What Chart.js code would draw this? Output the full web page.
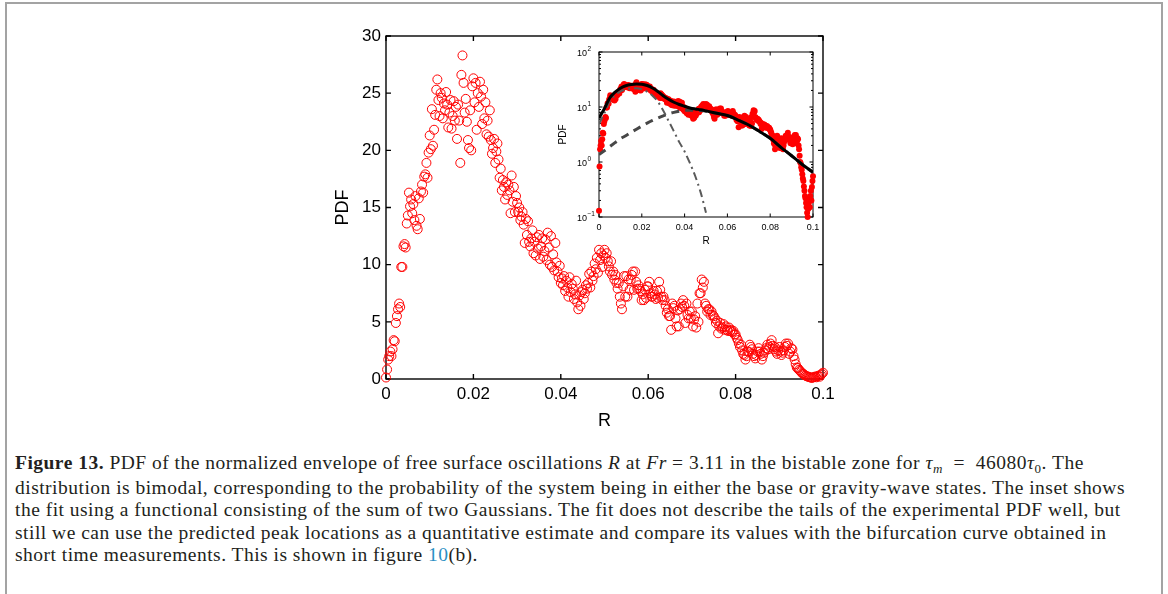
<!DOCTYPE html>
<html>
<head>
<meta charset="utf-8">
<script src="https://cdn.jsdelivr.net/npm/chart.js@4.4.0/dist/chart.umd.min.js"></script>
<style>
html, body { margin: 0; padding: 0; background: #fff; }
body { width: 1168px; height: 594px; position: relative; overflow: hidden; }
#frame { position: absolute; left: 5px; top: 2px; width: 1158px; height: 640px; border: 2px solid #a3a3a3; border-bottom: none; box-sizing: border-box; }
#mainBox { position: absolute; left: 328px; top: 20px; width: 520px; height: 416px; }
#insetBox { position: absolute; left: 553px; top: 40px; width: 272px; height: 211px; }
#caption { position: absolute; left: 15px; top: 452px; font-family: "Liberation Serif", "DejaVu Serif", serif; font-size: 19.5px; line-height: 22.5px; color: #231f20; white-space: nowrap; }
#caption span.line { display: inline-block; }
.sub { font-size: 13px; position: relative; top: 4px; }
.ref { color: #2a8fc4; }
</style>
</head>
<body>
<div id="frame"></div>
<div id="mainBox"><canvas id="mainChart" width="520" height="416"></canvas></div>
<div id="insetBox"><canvas id="insetChart" width="272" height="211"></canvas></div>
<div id="caption">
<div><span class="line"><b>Figure 13.</b> PDF of the normalized envelope of free surface oscillations <i>R</i> at <i>Fr</i> = 3.11 in the bistable zone for <i>τ</i><span class="sub"><i>m</i></span> &nbsp;= &nbsp;46080<i>τ</i><span class="sub">0</span>. The</span></div>
<div><span class="line" id="longLine">distribution is bimodal, corresponding to the probability of the system being in either the base or gravity-wave states. The inset shows</span></div>
<div><span class="line">the fit using a functional consisting of the sum of two Gaussians. The fit does not describe the tails of the experimental PDF well, but</span></div>
<div><span class="line">still we can use the predicted peak locations as a quantitative estimate and compare its values with the bifurcation curve obtained in</span></div>
<div><span class="line">short time measurements. This is shown in figure <span class="ref">10</span>(b).</span></div>
</div>
<script>
// histogram bins of R, one PDF value per bin
var binWidth = 0.00025;
var pdfValues = [
  0.13, 0.83, 1.7, 2.0,      // 0.000
  2.4, 2.0, 2.6, 3.4,
  3.3, 4.9, 5.5, 6.1,
  6.6, 6.3, 9.8, 9.8,
  11.6, 11.8, 11.5, 13.6,
  14.3, 16.3, 15.1, 15.7,    // 0.005
  14.5, 15.3, 13.9, 16.0,
  13.4, 13.1, 15.8, 14.0,
  16.4, 17.0, 16.3, 17.7,
  17.9, 18.9, 17.6, 19.8,
  21.3, 20.1, 23.6, 20.4,    // 0.010
  21.8, 23.1, 25.3, 26.2,
  24.4, 23.0, 25.0, 24.6,
  22.8, 24.1, 23.5, 25.1,
  24.0, 22.0, 23.3, 24.4,
  21.9, 23.0, 24.3, 22.6,    // 0.015
  23.8, 21.0, 24.0, 22.6,
  18.9, 26.6, 28.3, 25.9,
  23.3, 24.5, 22.5, 20.9,
  20.2, 23.5, 20.0, 25.6,
  26.3, 24.2, 25.9, 21.8,    // 0.020
  25.0, 23.8, 26.0, 24.7,
  22.3, 25.3, 22.8, 24.2,
  21.4, 22.6, 21.2, 23.5,
  20.9, 19.7, 20.2, 21.0,
  18.9, 19.9, 20.6, 19.2,    // 0.025
  17.6, 18.4, 16.5, 17.4,
  16.8, 15.7, 17.2, 16.1,
  17.0, 16.5, 14.5, 17.8,
  15.5, 16.8, 14.6, 16.0,
  15.4, 14.6, 15.0, 13.9,    // 0.030
  14.2, 14.6, 13.5, 11.9,
  14.0, 12.6, 13.8, 12.0,
  11.6, 12.3, 13.0, 11.0,
  12.0, 10.8, 12.4, 11.4,
  12.6, 10.5, 11.6, 12.3,    // 0.035
  10.7, 11.2, 12.2, 10.4,
  12.8, 11.5, 10.0, 12.5,
  9.8, 10.9, 9.5, 11.9,
  10.2, 9.4, 8.9, 9.9,
  8.4, 8.8, 8.2, 9.0,        // 0.040
  7.7, 8.6, 8.0, 7.2,
  8.9, 7.6, 8.3, 7.9,
  7.0, 7.4, 8.6, 6.7,
  6.1, 7.3, 6.4, 7.6,
  7.8, 7.0, 7.5, 8.2,        // 0.045
  7.9, 8.4, 9.2, 8.0,
  9.4, 8.6, 9.0, 10.1,
  9.6, 10.6, 9.3, 11.3,
  10.4, 11.0, 9.8, 10.8,
  11.3, 10.6, 11.0, 10.3,    // 0.050
  9.85, 9.4, 10.3, 9.1,
  9.4, 8.7, 9.1, 8.4,
  7.9, 8.4, 7.2, 6.6,
  6.1, 8.1, 9.0, 7.2,
  9.0, 7.2, 8.7, 7.8,        // 0.055
  8.7, 9.1, 9.4, 7.8,
  9.4, 8.5, 7.9, 8.2,
  7.9, 7.7, 6.9, 7.4,
  6.9, 7.8, 7.1, 8.1,
  8.1, 8.5, 7.5, 7.2,        // 0.060
  7.2, 7.7, 7.4, 7.0,
  7.7, 7.1, 8.5, 7.8,
  7.2, 6.9, 7.2, 6.9,
  6.4, 5.8, 6.1, 5.5,
  5.5, 4.3, 6.6, 6.2,        // 0.065
  6.4, 5.3, 4.6, 6.0,
  4.6, 6.1, 6.6, 6.3,
  6.9, 6.4, 4.9, 6.6,
  5.6, 5.3, 5.9, 5.3,
  5.9, 4.6, 5.2, 5.5,        // 0.070
  4.5, 6.6, 5.0, 7.5,
  7.5, 8.7, 8.0, 8.5,
  6.6, 6.4, 5.9, 6.1,
  6.1, 5.6, 5.9, 5.6,
  5.5, 5.3, 4.9, 5.1,        // 0.075
  4.0, 4.6, 4.9, 4.4,
  4.5, 4.8, 4.3, 4.6,
  4.3, 4.2, 4.5, 4.2,
  4.3, 4.1, 4.2, 3.9,
  3.9, 3.6, 3.4, 3.1,        // 0.080
  2.8, 3.0, 2.5, 2.2,
  2.1, 1.7, 2.0, 2.4,
  2.4, 3.0, 2.8, 2.6,
  2.2, 2.0, 1.8, 2.1,
  2.4, 2.7, 2.4, 2.2,        // 0.085
  1.7, 2.0, 2.3, 2.5,
  2.7, 3.0, 2.6, 2.8,
  3.1, 3.4, 2.9, 2.6,
  2.8, 2.4, 2.2, 2.5,
  2.8, 2.4, 2.1, 2.3,        // 0.090
  2.5, 2.8, 3.1, 2.9,
  3.1, 2.2, 2.4, 2.7,
  2.6, 2.0, 1.7, 1.3,
  1.0, 0.95, 0.8, 0.72,
  0.6, 0.5, 0.45, 0.36,      // 0.095
  0.3, 0.24, 0.22, 0.18,
  0.15, 0.12, 0.1, 0.14,
  0.18, 0.22, 0.15, 0.24,
  0.3, 0.2, 0.35, 0.45,
  0.55                       // 0.100
];

// two-Gaussian fit shown in the inset
var fitR      = [0, 0.0025, 0.005, 0.0075, 0.01, 0.0125, 0.015, 0.0175, 0.02, 0.0225, 0.025, 0.0275, 0.03, 0.0325, 0.035, 0.0375, 0.04, 0.0425, 0.045, 0.0475, 0.05, 0.055, 0.06, 0.065, 0.07, 0.075, 0.08, 0.085, 0.09, 0.095, 0.1];
var fitSum    = [6.3, 9.3, 14.6, 18.6, 22.0, 24.3, 25.6, 26.2, 26.0, 24.6, 22.2, 19.2, 16.0, 13.8, 12.2, 11.1, 10.3, 9.6, 9.2, 8.9, 8.5, 7.7, 7.0, 5.8, 4.7, 3.6, 2.7, 1.85, 1.3, 0.9, 0.65];
var fitWide   = [1.36, 1.6, 1.9, 2.25, 2.65, 3.0, 3.45, 3.95, 4.5, 5.1, 5.7, 6.3, 6.9, 7.5, 8.0, 8.4, 8.7, 8.75, 8.7, 8.6, 8.4, 7.7, 7.0, 5.8, 4.7, 3.6, 2.7, 1.85, 1.3, 0.9, 0.65];
var fitNarrow = [4.9, 7.7, 12.7, 16.3, 19.3, 21.0, 21.8, 22.0, 21.0, 19.0, 16.0, 12.5, 8.6, 5.6, 3.6, 2.3, 1.55, 0.95, 0.55, 0.28, 0.12];

var rTicks = [0, 0.02, 0.04, 0.06, 0.08, 0.1];
var pdfTicks = [0, 5, 10, 15, 20, 25, 30];
var logTicks = [0.1, 1, 10, 100];
var logExponents = ['\u22121', '0', '1', '2'];

var FONT = '"Liberation Sans", Arial, sans-serif';

// stretch the caption lines to the width of the original typesetting
(function() {
    var line = document.getElementById('longLine');
    var w = line.getBoundingClientRect().width;
    var n = line.textContent.length;
    document.getElementById('caption').style.letterSpacing = ((1110 - w) / n).toFixed(3) + 'px';
})();

var points = pdfValues.map(function(v, i) {
    return { x: +(i * binWidth).toFixed(5), y: v };
});

function toXY(xs, ys) {
    return ys.map(function(v, i) { return { x: xs[i], y: v }; });
}

function fmtR(v) {
    return String(parseFloat(v.toFixed(3)));
}

// MATLAB style box with inward ticks
function boxPlugin(tickLen, minorLen, lineWidth) {
    return {
        id: 'box',
        beforeDatasetsDraw: function(chart) {
            var ctx = chart.ctx, a = chart.chartArea;
            var xs = chart.scales.x, ys = chart.scales.y;
            ctx.save();
            ctx.strokeStyle = '#000';
            ctx.lineWidth = lineWidth;
            ctx.strokeRect(a.left, a.top, a.right - a.left, a.bottom - a.top);
            ctx.beginPath();
            xs.ticks.forEach(function(t) {
                var px = xs.getPixelForValue(t.value);
                ctx.moveTo(px, a.bottom); ctx.lineTo(px, a.bottom - tickLen);
                ctx.moveTo(px, a.top); ctx.lineTo(px, a.top + tickLen);
            });
            ys.ticks.forEach(function(t) {
                var py = ys.getPixelForValue(t.value);
                ctx.moveTo(a.left, py); ctx.lineTo(a.left + tickLen, py);
                ctx.moveTo(a.right, py); ctx.lineTo(a.right - tickLen, py);
            });
            if (minorLen && ys.type === 'logarithmic') {
                logTicks.slice(0, -1).forEach(function(d) {
                    for (var k = 2; k < 10; k++) {
                        var py = ys.getPixelForValue(d * k);
                        ctx.moveTo(a.left, py); ctx.lineTo(a.left + minorLen, py);
                        ctx.moveTo(a.right, py); ctx.lineTo(a.right - minorLen, py);
                    }
                });
            }
            ctx.stroke();
            ctx.restore();
        }
    };
}

// powers of ten labels for the inset log axis
var expLabels = {
    id: 'expLabels',
    afterDraw: function(chart) {
        var ctx = chart.ctx, a = chart.chartArea, ys = chart.scales.y;
        ctx.save();
        ctx.fillStyle = '#000';
        ctx.textBaseline = 'middle';
        ctx.textAlign = 'left';
        logTicks.forEach(function(v, i) {
            var py = ys.getPixelForValue(v);
            ctx.font = '9px ' + FONT;
            ctx.fillText('10', a.left - 22, py + 2);
            var w = ctx.measureText('10').width;
            ctx.font = '6.5px ' + FONT;
            ctx.fillText(logExponents[i], a.left - 22 + w + 0.5, py - 2.5);
        });
        ctx.restore();
    }
};

var noGrid = { display: false, drawTicks: false, tickLength: 0 };

new Chart(document.getElementById('mainChart'), {
    type: 'scatter',
    data: {
        datasets: [{
            data: points,
            showLine: false,
            pointStyle: 'circle',
            pointRadius: 4.5,
            pointBorderWidth: 1,
            pointBorderColor: '#ff0000',
            pointBackgroundColor: 'rgba(0,0,0,0)',
            clip: false
        }]
    },
    options: {
        responsive: false,
        animation: false,
        devicePixelRatio: 1,
        layout: { padding: { top: 16, right: 25, left: 0, bottom: 0 } },
        plugins: { legend: { display: false }, tooltip: { enabled: false } },
        scales: {
            x: {
                type: 'linear', min: 0, max: 0.1,
                afterBuildTicks: function(s) { s.ticks = rTicks.map(function(v) { return { value: v }; }); },
                afterFit: function(s) { s.height = 57; },
                grid: noGrid, border: { display: false },
                ticks: { color: '#000', font: { family: FONT, size: 17 }, padding: 5, maxRotation: 0, callback: fmtR },
                title: { display: true, text: 'R', color: '#000', font: { family: FONT, size: 18 } }
            },
            y: {
                min: 0, max: 30,
                afterBuildTicks: function(s) { s.ticks = pdfTicks.map(function(v) { return { value: v }; }); },
                afterFit: function(s) { s.width = 58; },
                grid: noGrid, border: { display: false },
                ticks: { color: '#000', font: { family: FONT, size: 17 }, padding: 5 },
                title: { display: true, text: 'PDF', color: '#000', font: { family: FONT, size: 18 } }
            }
        }
    },
    plugins: [boxPlugin(5, 0, 1.4)]
});

new Chart(document.getElementById('insetChart'), {
    type: 'scatter',
    data: {
        datasets: [
            {
                data: toXY(fitR, fitSum), showLine: true, pointRadius: 0,
                borderColor: '#000', borderWidth: 3, cubicInterpolationMode: 'monotone', order: 0
            },
            {
                data: toXY(fitR, fitNarrow), showLine: true, pointRadius: 0,
                borderColor: '#5a5a5a', borderWidth: 2, borderDash: [8, 4, 2, 4], cubicInterpolationMode: 'monotone', order: 1
            },
            {
                data: toXY(fitR, fitWide), showLine: true, pointRadius: 0,
                borderColor: '#474747', borderWidth: 3, borderDash: [8, 6], cubicInterpolationMode: 'monotone', order: 2
            },
            {
                data: points, showLine: false, pointStyle: 'circle', pointRadius: 3,
                pointBorderWidth: 0, pointBackgroundColor: '#ff0000', order: 3,
                clip: { left: 3, right: 3, top: 3, bottom: 3 }
            }
        ]
    },
    options: {
        responsive: false,
        animation: false,
        devicePixelRatio: 1,
        layout: { padding: { top: 12, right: 12, left: 0, bottom: 0 } },
        plugins: { legend: { display: false }, tooltip: { enabled: false } },
        scales: {
            x: {
                type: 'linear', min: 0, max: 0.1,
                afterBuildTicks: function(s) { s.ticks = rTicks.map(function(v) { return { value: v }; }); },
                afterFit: function(s) { s.height = 34; },
                grid: noGrid, border: { display: false },
                ticks: { color: '#000', font: { family: FONT, size: 9 }, padding: 5, maxRotation: 0, callback: fmtR },
                title: { display: true, text: 'R', color: '#000', font: { family: FONT, size: 10 } }
            },
            y: {
                type: 'logarithmic', min: 0.1, max: 100,
                afterBuildTicks: function(s) { s.ticks = logTicks.map(function(v) { return { value: v }; }); },
                afterFit: function(s) { s.width = 46; },
                grid: noGrid, border: { display: false },
                ticks: { display: false },
                title: { display: true, text: 'PDF', color: '#000', font: { family: FONT, size: 10 } }
            }
        }
    },
    plugins: [boxPlugin(3.5, 2, 1), expLabels]
});
</script>
</body>
</html>
